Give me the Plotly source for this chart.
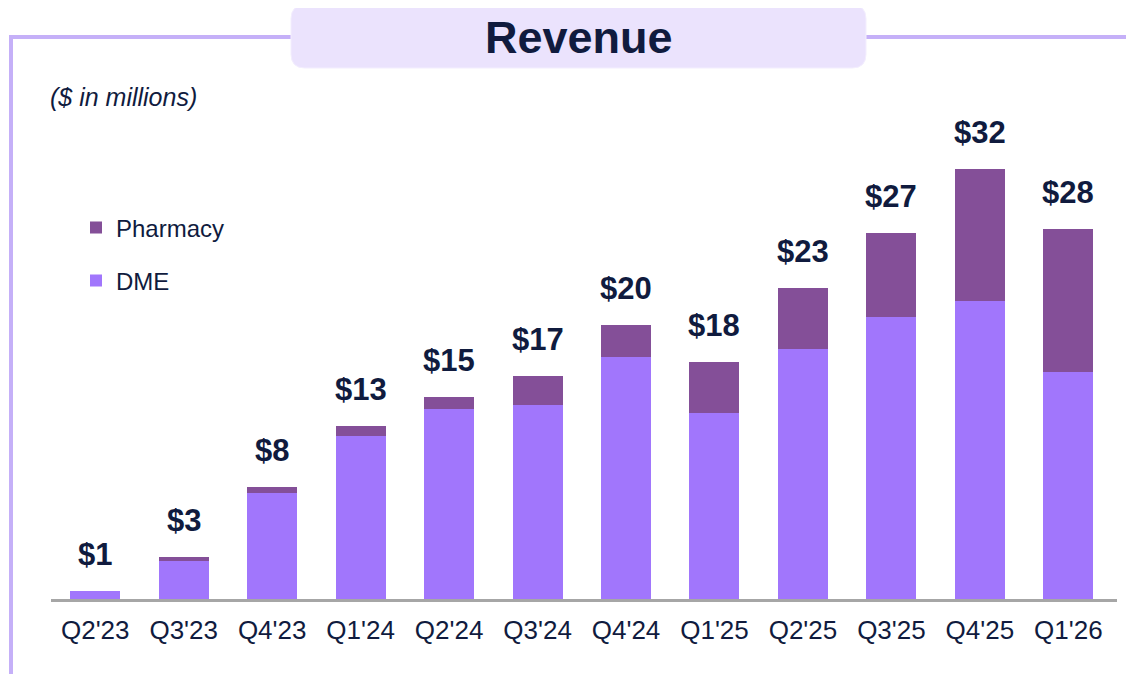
import plotly.graph_objects as go

# quarterly revenue, $ millions
quarters = ["Q2'23", "Q3'23", "Q4'23", "Q1'24", "Q2'24", "Q3'24",
            "Q4'24", "Q1'25", "Q2'25", "Q3'25", "Q4'25", "Q1'26"]
dme = [0.6, 2.8, 7.9, 12.1, 14.1, 14.4, 18.0, 13.8, 18.6, 21.0, 22.2, 16.9]
pharmacy = [0.0, 0.3, 0.4, 0.8, 0.9, 2.2, 2.4, 3.8, 4.5, 6.2, 9.8, 10.6]
totals = [d + p for d, p in zip(dme, pharmacy)]

DME_COLOR = "#a176fc"
PHARM_COLOR = "#844f98"
NAVY = "#101b3e"
FRAME = "#c5b0f8"

# page body adds an 8px margin, so work in screen pixels and shift
OFF = 8
W, H = 1134 - OFF, 674 - OFF
L, R, T, B = 51, 1117, 115, 599  # plot area, screen pixels


def px(x):
    return (x - L) / (R - L)


def py(y):
    return (B - y) / (B - T)


fig = go.Figure()
fig.add_trace(go.Bar(x=quarters, y=dme, name="DME", marker=dict(color=DME_COLOR, line=dict(width=0)),
                     legend="legend2"))
fig.add_trace(go.Bar(x=quarters, y=pharmacy, name="Pharmacy", marker=dict(color=PHARM_COLOR, line=dict(width=0)),
                     legend="legend"))

# total labels above each stack
for q, t in zip(quarters, totals):
    fig.add_annotation(x=q, y=t, text=f"<b>${t:.0f}</b>", showarrow=False, yanchor="bottom",
                       yshift=17, font=dict(size=31, color=NAVY, family="Arial"))

# rounded title box
x0, x1, y0, y1, r = 291, 866, 5, 68, 14
path = (f"M {px(x0 + r)},{py(y0)} L {px(x1 - r)},{py(y0)} Q {px(x1)},{py(y0)} {px(x1)},{py(y0 + r)} "
        f"L {px(x1)},{py(y1 - r)} Q {px(x1)},{py(y1)} {px(x1 - r)},{py(y1)} "
        f"L {px(x0 + r)},{py(y1)} Q {px(x0)},{py(y1)} {px(x0)},{py(y1 - r)} "
        f"L {px(x0)},{py(y0 + r)} Q {px(x0)},{py(y0)} {px(x0 + r)},{py(y0)} Z")
shapes = [
    dict(type="line", xref="paper", yref="paper", x0=px(11), x1=px(291), y0=py(37), y1=py(37),
         line=dict(color=FRAME, width=4)),
    dict(type="line", xref="paper", yref="paper", x0=px(866), x1=px(1134), y0=py(37), y1=py(37),
         line=dict(color=FRAME, width=4)),
    dict(type="line", xref="paper", yref="paper", x0=px(11), x1=px(11), y0=py(35), y1=py(674),
         line=dict(color=FRAME, width=4)),
    dict(type="path", xref="paper", yref="paper", path=path, fillcolor="#ebe3fd",
         line=dict(color="#f3eefe", width=1)),
]

fig.add_annotation(xref="paper", yref="paper", x=px(579), y=py(38), text="<b>Revenue</b>",
                   showarrow=False, xanchor="center", yanchor="middle",
                   font=dict(size=45, color=NAVY, family="Arial"))
fig.add_annotation(xref="paper", yref="paper", x=px(48), y=py(97), text="<i>($ in millions)</i>",
                   showarrow=False, xanchor="left", yanchor="middle",
                   font=dict(size=25, color=NAVY, family="Arial"))

legend_style = dict(font=dict(size=24, color=NAVY, family="Arial"), bgcolor="rgba(0,0,0,0)",
                    xanchor="left", yanchor="middle", borderwidth=0)

fig.update_layout(
    width=W, height=H,
    barmode="stack", bargap=0.435,
    plot_bgcolor="white", paper_bgcolor="white",
    margin=dict(l=L - OFF, r=W - (R - OFF), t=T - OFF, b=H - (B - OFF), pad=0),
    showlegend=True,
    legend=dict(x=px(76), y=py(228), **legend_style),
    legend2=dict(x=px(76), y=py(281), **legend_style),
    xaxis=dict(range=[-0.5, 11.55], showline=True, linecolor="#a6a6a6", linewidth=3,
               ticks="", ticklabelstandoff=6,
               tickfont=dict(size=26, color=NAVY, family="Arial"), showgrid=False),
    yaxis=dict(range=[0, 36], visible=False, showgrid=False, zeroline=False),
    shapes=shapes,
)

fig.write_html("out.html")
